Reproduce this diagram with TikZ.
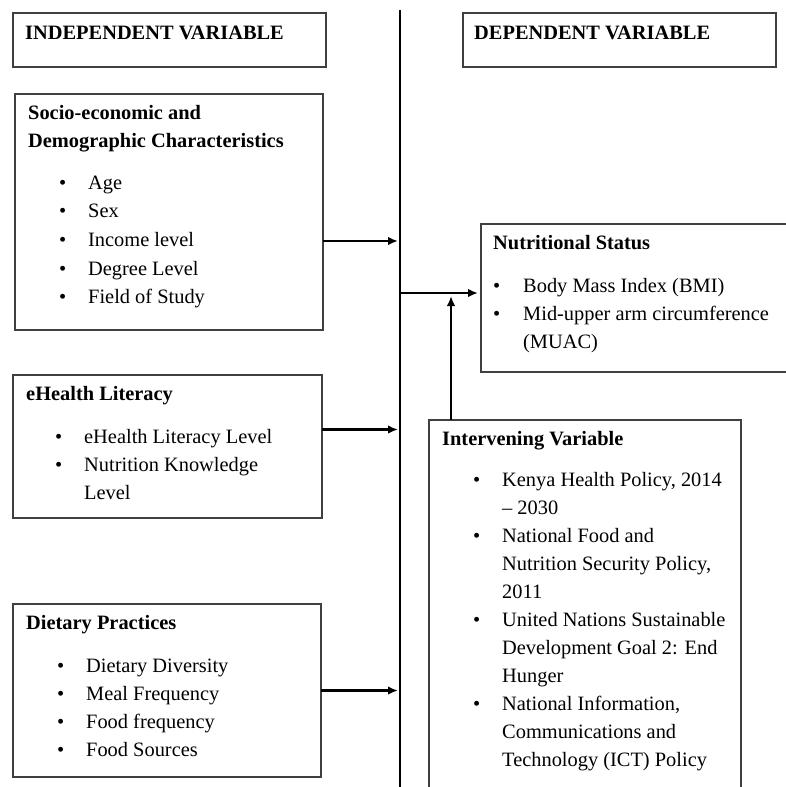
\documentclass[tikz,border=0pt]{standalone}
\usepackage{fontspec}
\setmainfont{Liberation Serif}
\usetikzlibrary{positioning}
\usetikzlibrary{arrows.meta}

\newcommand{\bitem}[1]{\hspace*{31pt}\makebox[29pt][l]{\textbullet}#1}
\newcommand{\bcont}[1]{\hspace*{60pt}#1}

\begin{document}
\begin{tikzpicture}[x=1pt,y=-1pt]
  \tikzstyle{vbox}=[draw=black!75,line width=1.1pt,inner sep=0pt,outer sep=0pt,anchor=north west]
  \tikzstyle{vtext}=[inner sep=0pt,anchor=base west,font=\fontsize{20.4}{28}\selectfont]
  \tikzstyle{arrowline}=[draw,line width=2.2pt,-{Latex[length=10pt,width=8.5pt]}]
  \def\textshift{13pt}
  \def\titledrop{-25pt}

  \useasboundingbox (0,0) rectangle (786,787);

  % the dividing line
  \coordinate (axtop) at (400,10);
  \coordinate (axbot) at (400,790);
  \draw [line width=2.2pt] (axtop) -- (axbot);

  % boxes
  \node [vbox,minimum width=313pt,minimum height=54pt] (indep) at (13,13) {};
  \node [vbox,minimum width=313pt,minimum height=54pt] (dep) at (463,13) {};
  \node [vbox,minimum width=308pt,minimum height=236pt] (socio) at (15,94) {};
  \node [vbox,minimum width=309pt,minimum height=143pt] (ehealth) at (13,375) {};
  \node [vbox,minimum width=308pt,minimum height=173pt] (diet) at (13,604) {};
  \node [vbox,minimum width=310pt,minimum height=148pt] (nutri) at (481,224) {};
  \node [vbox,minimum width=312pt,minimum height=380pt] (interv) at (429,420) {};

  % texts
  \node [vtext] (indep-t) at ([xshift=12pt,yshift=-26pt]indep.north west)
    {\textbf{INDEPENDENT VARIABLE}};
  \node [vtext] (dep-t) at ([xshift=11pt,yshift=-26pt]dep.north west)
    {\textbf{DEPENDENT VARIABLE}};

  \node [vtext] (socio-t) at ([xshift=\textshift,yshift=\titledrop]socio.north west)
    {\parbox[t]{295pt}{\baselineskip=28.6pt
      \textbf{Socio-economic and}\\
      \textbf{Demographic Characteristics}\\[13pt]
      \bitem{Age}\\
      \bitem{Sex}\\
      \bitem{Income level}\\
      \bitem{Degree Level}\\
      \bitem{Field of Study}}};

  \node [vtext] (ehealth-t) at ([xshift=\textshift,yshift=\titledrop]ehealth.north west)
    {\parbox[t]{295pt}{\textbf{eHealth Literacy}\\[15pt]
      \hspace*{-2pt}\bitem{eHealth Literacy Level}\\
      \hspace*{-2pt}\bitem{Nutrition Knowledge}\\
      \hspace*{-2pt}\bcont{Level}}};

  \node [vtext] (diet-t) at ([xshift=\textshift,yshift=\titledrop]diet.north west)
    {\parbox[t]{295pt}{\textbf{Dietary Practices}\\[15pt]
      \bitem{Dietary Diversity}\\
      \bitem{Meal Frequency}\\
      \bitem{Food frequency}\\
      \bitem{Food Sources}}};

  \node [vtext] (nutri-t) at ([xshift=12pt,yshift=\titledrop]nutri.north west)
    {\parbox[t]{295pt}{\textbf{Nutritional Status}\\[15pt]
      \makebox[30pt][l]{\textbullet}Body Mass Index (BMI)\\
      \makebox[30pt][l]{\textbullet}Mid-upper arm circumference\\
      \hspace*{30pt}(MUAC)}};

  \node [vtext] (interv-t) at ([xshift=\textshift,yshift=\titledrop]interv.north west)
    {\parbox[t]{295pt}{\textbf{Intervening Variable}\\[13pt]
      \bitem{Kenya Health Policy, 2014}\\
      \bcont{-- 2030}\\
      \bitem{National Food and}\\
      \bcont{Nutrition Security Policy,}\\
      \bcont{2011}\\
      \bitem{United Nations Sustainable}\\
      \bcont{Development Goal 2: End}\\
      \bcont{Hunger}\\
      \bitem{National Information,}\\
      \bcont{Communications and}\\
      \bcont{Technology (ICT) Policy}}};

  % connectors
  \coordinate (socio-out) at ([yshift=-29pt]socio.east);
  \coordinate (ehealth-out) at ([yshift=17pt]ehealth.east);
  \coordinate (nutri-in) at ([yshift=5pt]nutri.west);
  \coordinate (interv-out) at ([xshift=22pt]interv.north west);

  \path [arrowline,shorten >=2pt] (socio-out) -- (socio-out -| axtop);
  \path [arrowline,shorten >=2pt] (ehealth-out) -- (ehealth-out -| axtop);
  \path [arrowline,shorten >=2pt] (diet.east) -- (diet.east -| axtop);
  \path [arrowline,shorten >=3pt] (nutri-in -| axtop) -- (nutri-in);
  \path [arrowline,shorten >=3pt] (interv-out) -- (interv-out |- nutri-in);
\end{tikzpicture}
\end{document}
